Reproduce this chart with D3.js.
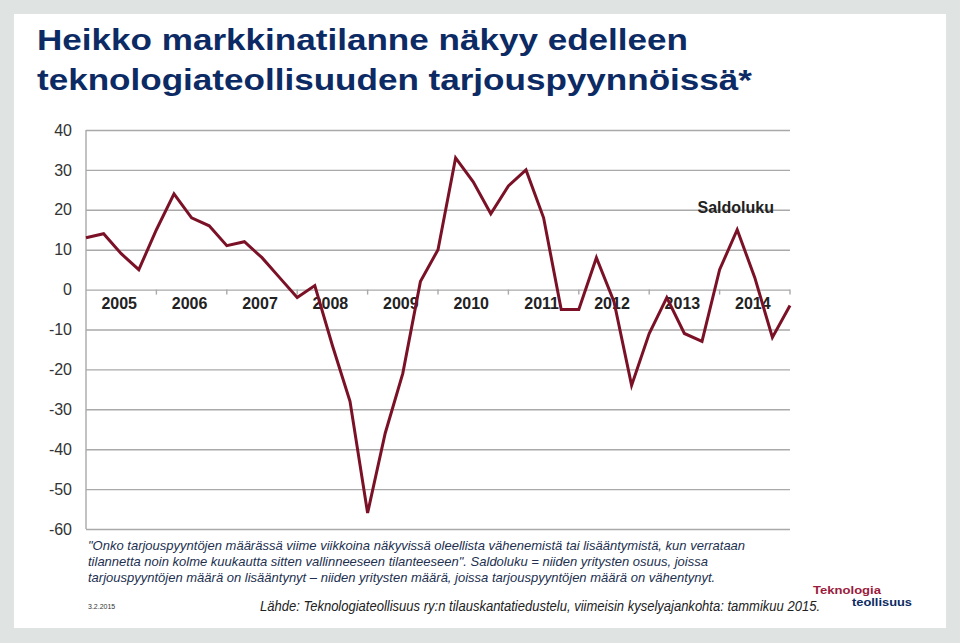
<!DOCTYPE html>
<html lang="fi">
<head>
<meta charset="UTF-8"/>
<title>Saldoluku</title>
<script src="https://d3js.org/d3.v7.min.js"></script>
<style>
  body { margin: 0; background: #dfe4e3; }
  svg { display: block; font-family: "Liberation Sans", Arial, sans-serif; }
</style>
</head>
<body>
<script>
    // Quarterly balance figures, 2005 Q1 .. 2015 Q1
    var saldoluku = [13, 14, 9, 5, 15, 24, 18, 16, 11, 12, 8, 3,
                     -2, 1, -14, -28, -56, -36, -21, 2, 10, 33, 27, 19,
                     26, 30, 18, -5, -5, 8, -3, -24, -11, -2, -11, -13,
                     5, 15, 3, -12, -4];
    var years = [2005, 2006, 2007, 2008, 2009, 2010, 2011, 2012, 2013, 2014];
    var yTicks = [40, 30, 20, 10, 0, -10, -20, -30, -40, -50, -60];

    var titleLines = ["Heikko markkinatilanne näkyy edelleen",
                      "teknologiateollisuuden tarjouspyynnöissä*"];
    var noteLines = [
        "\"Onko tarjouspyyntöjen määrässä viime viikkoina näkyvissä oleellista vähenemistä tai lisääntymistä, kun verrataan",
        "tilannetta noin kolme kuukautta sitten vallinneeseen tilanteeseen\". Saldoluku = niiden yritysten osuus, joissa",
        "tarjouspyyntöjen määrä on lisääntynyt – niiden yritysten määrä, joissa tarjouspyyntöjen määrä on vähentynyt."
    ];

    var w = 960, h = 643;
    var plotLeft = 86, plotRight = 790, plotTop = 130, plotBottom = 529;

    var svg = d3.select("body").append("svg")
        .attr("width", w)
        .attr("height", h);

    // slide frame
    svg.append("rect").attr("width", w).attr("height", h).attr("fill", "#dfe4e3");
    svg.append("rect").attr("x", 14).attr("y", 14).attr("width", 932).attr("height", 614).attr("fill", "#fff");

    // title
    var titleWidths = [651, 715];
    svg.selectAll("text.title")
        .data(titleLines)
        .enter()
        .append("text")
        .attr("class", "title")
        .attr("x", 37)
        .attr("y", function(d, i) { return 50 + i * 40; })
        .attr("font-size", "29px")
        .attr("font-weight", "bold")
        .attr("fill", "#0c2a63")
        .text(function(d) { return d; })
        .attr("textLength", function(d, i) { return titleWidths[i]; })
        .attr("lengthAdjust", "spacingAndGlyphs");

    // scales
    var xScale = d3.scaleLinear()
        .domain([0, saldoluku.length - 1])
        .range([plotLeft, plotRight]);

    var yearScale = d3.scaleBand()
        .domain(years)
        .range([plotLeft, plotRight]);

    var yScale = d3.scaleLinear()
        .domain([-60, 40])
        .range([plotBottom, plotTop]);

    // y axis with gridlines (plain hyphen for negatives)
    var yAxis = d3.axisLeft(yScale)
        .tickValues(yTicks)
        .tickFormat(function(d) { return String(d); })
        .tickSize(-(plotRight - plotLeft))
        .tickPadding(14);

    var gy = svg.append("g")
        .attr("transform", "translate(" + plotLeft + ",0)")
        .call(yAxis);
    gy.select(".domain").remove();
    gy.selectAll(".tick line").attr("stroke", "#a9a9a9").attr("stroke-width", 1.4);
    gy.selectAll(".tick text")
        .attr("font-size", "16px")
        .attr("fill", "#333")
        .attr("font-family", "Liberation Sans, Arial, sans-serif");

    svg.append("line")
        .attr("x1", plotLeft).attr("x2", plotLeft)
        .attr("y1", plotTop).attr("y2", plotBottom)
        .attr("stroke", "#a9a9a9").attr("stroke-width", 1.4);

    // year boundary ticks on the zero line
    svg.selectAll("line.ytick")
        .data(years)
        .enter()
        .append("line")
        .attr("class", "ytick")
        .attr("x1", function(d) { return yearScale(d) + yearScale.bandwidth(); })
        .attr("x2", function(d) { return yearScale(d) + yearScale.bandwidth(); })
        .attr("y1", yScale(0))
        .attr("y2", yScale(0) + 5)
        .attr("stroke", "#a9a9a9").attr("stroke-width", 1.4);

    // year labels
    svg.selectAll("text.year")
        .data(years)
        .enter()
        .append("text")
        .attr("class", "year")
        .attr("x", function(d) { return yearScale(d) + yearScale.bandwidth() / 2 - 2; })
        .attr("y", yScale(0) + 19)
        .attr("text-anchor", "middle")
        .attr("font-size", "16px")
        .attr("font-weight", "bold")
        .attr("fill", "#222")
        .text(function(d) { return d; });

    // the line
    var line = d3.line()
        .x(function(d, i) { return xScale(i); })
        .y(function(d) { return yScale(d); });

    svg.append("path")
        .datum(saldoluku)
        .attr("d", line)
        .attr("fill", "none")
        .attr("stroke", "#7b1126")
        .attr("stroke-width", 3)
        .attr("stroke-linejoin", "miter");

    // series label
    svg.append("text")
        .attr("x", 774)
        .attr("y", 213)
        .attr("text-anchor", "end")
        .attr("font-size", "16px")
        .attr("font-weight", "bold")
        .attr("fill", "#222")
        .text("Saldoluku");

    // footnote
    svg.selectAll("text.note")
        .data(noteLines)
        .enter()
        .append("text")
        .attr("class", "note")
        .attr("x", 88)
        .attr("y", function(d, i) { return 550 + i * 16; })
        .attr("font-size", "13px")
        .attr("font-style", "italic")
        .attr("fill", "#22304f")
        .text(function(d) { return d; });

    svg.append("text")
        .attr("x", 88)
        .attr("y", 609)
        .attr("font-size", "7px")
        .attr("fill", "#333")
        .text("3.2.2015");

    svg.append("text")
        .attr("x", 260)
        .attr("y", 611)
        .attr("font-size", "14px")
        .attr("font-style", "italic")
        .attr("fill", "#222")
        .attr("textLength", 560)
        .attr("lengthAdjust", "spacingAndGlyphs")
        .text("Lähde: Teknologiateollisuus ry:n tilauskantatiedustelu, viimeisin kyselyajankohta: tammikuu 2015.");

    // logo
    svg.append("text")
        .attr("x", 813)
        .attr("y", 594)
        .attr("font-size", "11.5px")
        .attr("font-weight", "bold")
        .attr("fill", "#9a1b3c")
        .attr("textLength", 68)
        .attr("lengthAdjust", "spacingAndGlyphs")
        .text("Teknologia");
    svg.append("text")
        .attr("x", 852)
        .attr("y", 605.5)
        .attr("font-size", "11.5px")
        .attr("font-weight", "bold")
        .attr("fill", "#0c2a63")
        .attr("textLength", 60)
        .attr("lengthAdjust", "spacingAndGlyphs")
        .text("teollisuus");
</script>
</body>
</html>
